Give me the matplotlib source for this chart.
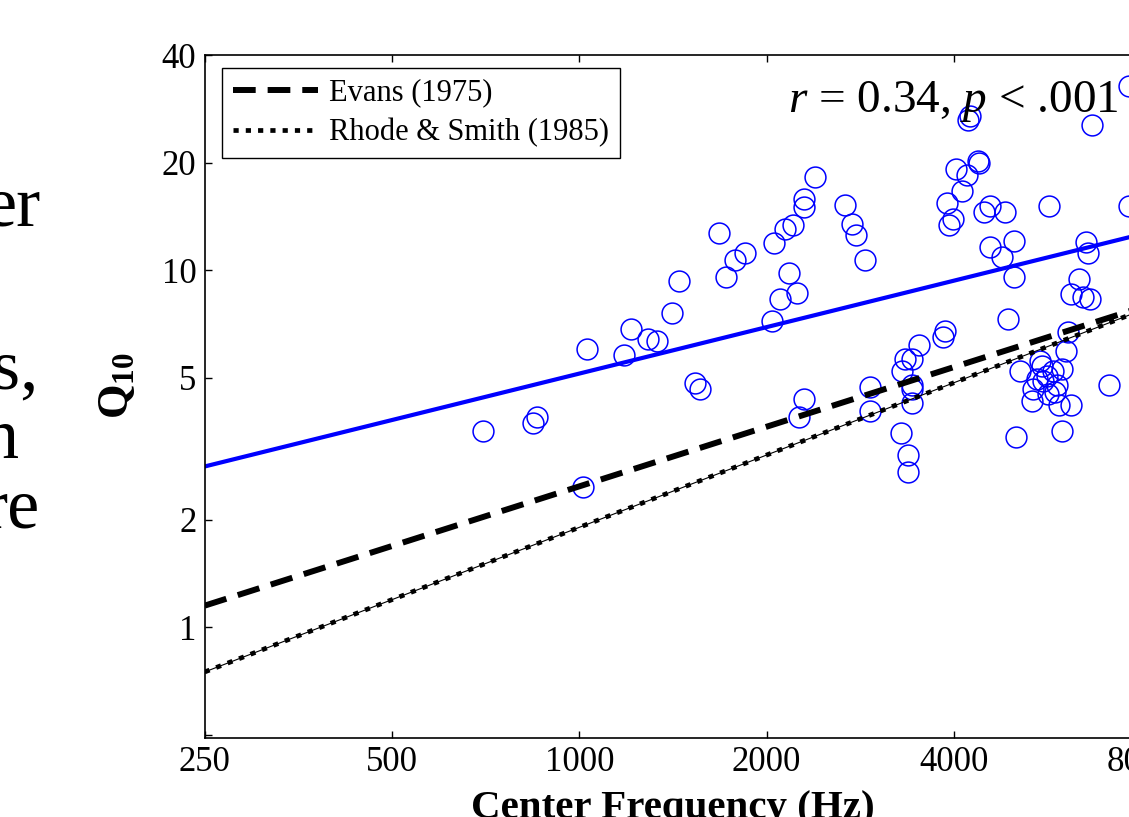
import matplotlib
matplotlib.use('Agg')
import matplotlib.pyplot as plt
from matplotlib.ticker import FixedLocator, FixedFormatter, NullLocator

# fuentes tipo Times
plt.rcParams['font.family'] = 'Liberation Serif'
plt.rcParams['mathtext.fontset'] = 'custom'
plt.rcParams['mathtext.rm'] = 'Liberation Serif'
plt.rcParams['mathtext.it'] = 'Liberation Serif:italic'
plt.rcParams['mathtext.bf'] = 'Liberation Serif:bold'

# datos (frecuencia central en Hz, Q10)
freq = [700, 843, 855, 1014, 1029, 1180, 1211, 1290, 1333, 1410, 1446, 1535, 1563,
        1677, 1721, 1779, 1847, 2040, 2056, 2102, 2141, 2173, 2207, 2240, 2297, 2297,
        2394, 2297, 2255, 2674, 2744, 2784, 2878, 2932, 2932, 4245, 4214, 6670, 4031,
        4372, 4388, 4197, 4117, 3899, 3990, 3928, 4572, 4472, 4833, 5690, 7650, 4572,
        4784, 5000, 5000, 6520, 6570, 6356, 6170, 6450, 6620, 4890, 3872, 3843, 3516,
        3336, 3422, 3300, 3422, 3422, 3422, 3287, 3375, 3375, 6100, 6058, 5110, 5500,
        5544, 5970, 5860, 5343, 5900, 6170, 5970, 5035, 7100, 5360, 5563, 5644, 5440,
        5664, 5763, 5807, 7650]
q10 = [3.54, 3.73, 3.87, 2.47, 6.0, 5.78, 6.83, 6.4, 6.32, 7.57, 9.31, 4.82, 4.64,
       12.7, 9.55, 10.7, 11.15, 7.19, 11.9, 8.29, 13.0, 9.8, 13.36, 8.61, 15.8, 15.0,
       18.2, 4.35, 3.87, 15.2, 13.5, 12.5, 10.7, 4.7, 4.03, 27.0, 26.3, 25.5, 19.2,
       20.2, 20.0, 18.4, 16.7, 15.4, 13.9, 13.36, 15.1, 14.5, 14.5, 15.1, 15.1, 11.6,
       10.9, 12.1, 9.55, 12.0, 11.15, 9.43, 8.56, 8.4, 8.29, 7.29, 6.74, 6.49, 6.16,
       5.63, 5.63, 5.21, 4.76, 4.64, 4.24, 3.49, 3.03, 2.73, 6.7, 5.93, 5.21, 5.56,
       5.38, 5.28, 4.76, 4.29, 4.18, 4.18, 3.54, 3.40, 4.76, 4.64, 4.88, 5.05, 4.95,
       4.49, 5.21, 4.55, 32.7]

# rectas (extremos en 250 y 8000 Hz)
line_freq = [250, 8000]
fit_q = [2.82, 12.6]
evans_q = [1.15, 7.86]
rhode_q = [0.75, 7.71]

xticks = [250, 500, 1000, 2000, 4000, 8000]
xlabels = ['250', '500', '1000', '2000', '4000', '8000']
yticks = [0.5, 1, 2, 5, 10, 20, 40]
ylabels = ['', '1', '2', '5', '10', '20', '40']

W, H = 1129, 817
fig = plt.figure(figsize=(W / 100, H / 100), dpi=100)
ax = fig.add_axes([204.7 / W, 79 / H, 936.5 / W, 683 / H])
ax.set_xscale('log')
ax.set_yscale('log')

ax.plot(freq, q10, 'o', ms=15, mfc='none', mec='#0000ff', mew=1.1)
ax.plot(line_freq, fit_q, color='#0000ff', lw=3)
ax.plot(line_freq, evans_q, color='k', lw=4.3, ls=(0, (3.8, 2.0)), label='Evans (1975)')
ax.plot(line_freq, rhode_q, color='k', lw=0.8)
ax.plot(line_freq, rhode_q, color='k', lw=3.4, ls=(0, (1.1, 1.5)), label='Rhode & Smith (1985)')

ax.set_xlim(250, 8000)
ax.set_ylim(0.49, 40)
ax.xaxis.set_major_locator(FixedLocator(xticks))
ax.xaxis.set_major_formatter(FixedFormatter(xlabels))
ax.xaxis.set_minor_locator(NullLocator())
ax.yaxis.set_major_locator(FixedLocator(yticks))
ax.yaxis.set_major_formatter(FixedFormatter(ylabels))
ax.yaxis.set_minor_locator(NullLocator())
ax.tick_params(direction='in', length=5, width=1, top=True, right=True, labelsize=25, pad=6)
for s in ax.spines.values():
    s.set_linewidth(1.2)

ax.set_xlabel('Center Frequency (Hz)', fontsize=29.5, fontweight='bold', labelpad=8)
ax.set_ylabel(r'$\mathbf{Q}_{\mathbf{10}}$', fontsize=32)
ax.yaxis.set_label_coords((137 - 204.7) / 936.5, (738 - 386) / 683)

leg = ax.legend(loc='upper left', bbox_to_anchor=(17.5 / 936.5, 1 - 13 / 683), borderaxespad=0,
                fontsize=22, frameon=True, fancybox=False, edgecolor='k', framealpha=1,
                handlelength=2.8, handletextpad=0.35, borderpad=0.35, labelspacing=0.35)
leg.get_frame().set_linewidth(1.0)

ax.text(788 / W, 1 - 112 / H, r'$r$ = 0.34, $p$ < .001', transform=fig.transFigure,
        fontsize=34, ha='left', va='baseline')

# texto de la diapositiva recortado a la izquierda
for txt, xr, yb in [('er', 40, 226), ('s,', 38, 388), ('n', 18, 458), ('re', 40, 528)]:
    fig.text(xr / W, 1 - yb / H, txt, fontsize=52, ha='right', va='baseline')

fig.savefig('out.png', dpi=100)
